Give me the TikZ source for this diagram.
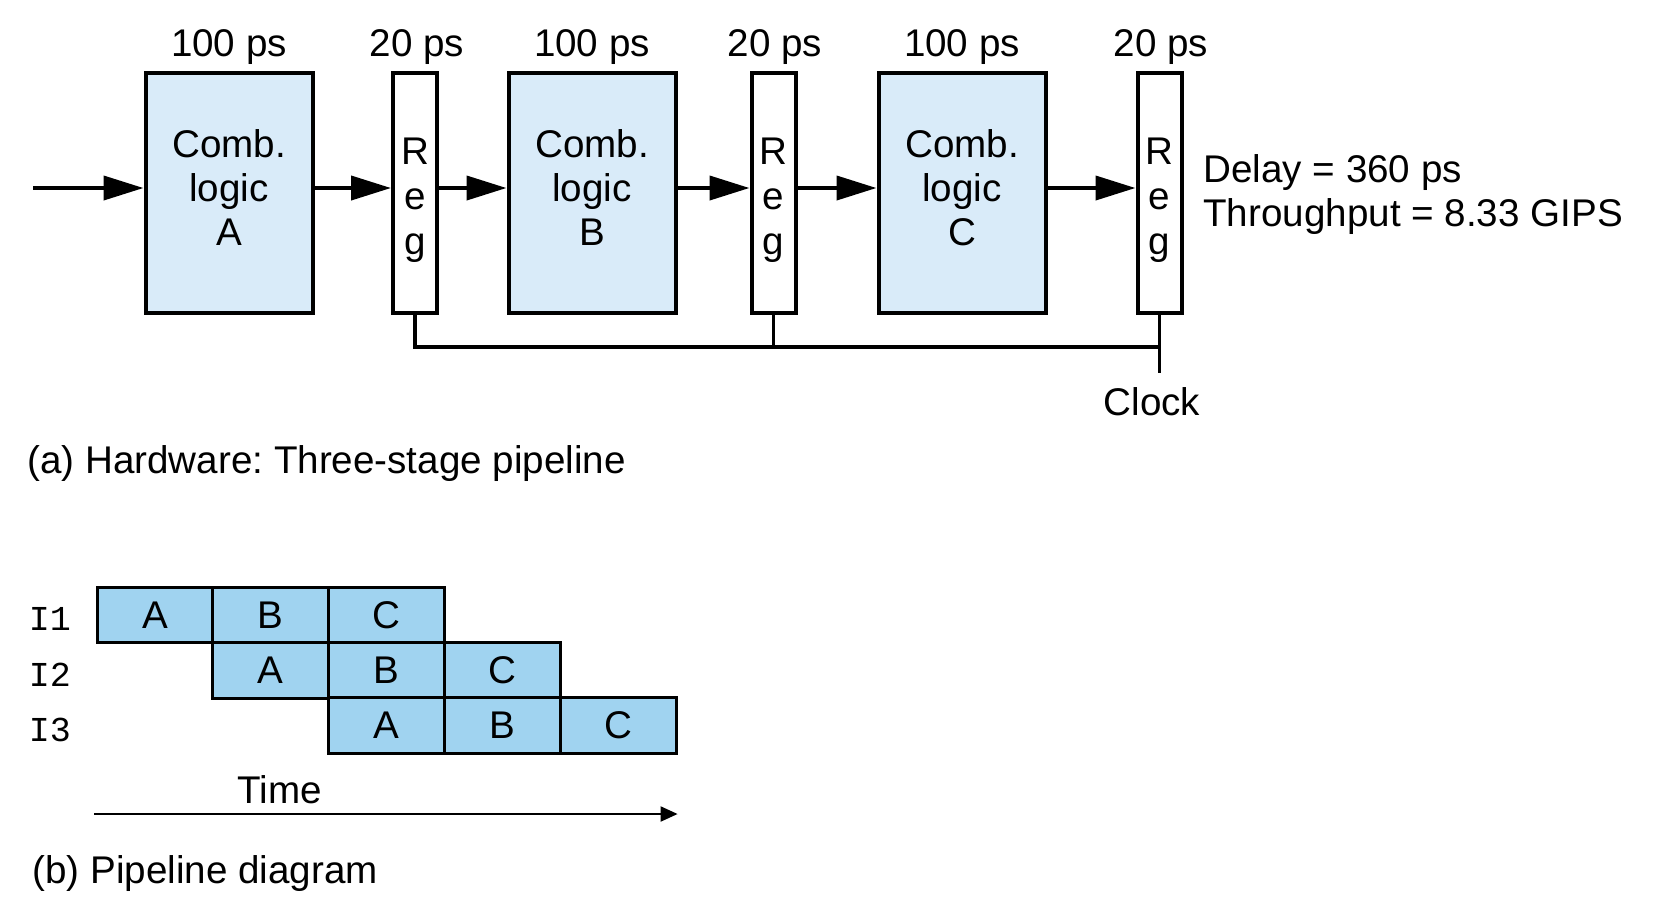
\documentclass[tikz,border=0pt]{standalone}
\usepackage{fontspec}
\setmainfont{Liberation Sans}
\setmonofont{Liberation Mono}
\usetikzlibrary{arrows.meta}
\definecolor{logicfill}{HTML}{D9EBF9}
\definecolor{cellfill}{HTML}{A0D3F0}
\frenchspacing

\begin{document}
\begin{tikzpicture}[x=0.5pt,y=-0.5pt,
  every node/.style={font=\fontsize{19.3}{22}\selectfont},
  logic/.style={draw,line width=2pt,fill=logicfill,minimum width=83.5pt,
    minimum height=120pt,align=center,inner sep=0pt},
  reg/.style={draw,line width=2pt,fill=white,minimum width=22pt,
    minimum height=120pt,align=center,inner sep=0pt,
    font=\fontsize{19.3}{22.5}\selectfont},
  wire/.style={line width=2pt,-{Triangle[length=20pt,width=12pt]}},
  clk/.style={line width=1.6pt},
  cell/.style={draw,line width=1.5pt,fill=cellfill,minimum width=57.9pt,
    minimum height=27.7pt,inner sep=0pt},
  caption/.style={anchor=west,inner sep=0pt}]
  \useasboundingbox (0,0) rectangle (1662,918);
  % (a) hardware
  \node[logic] (A) at (229,193) {};
  \node[reg]   (R1) at (415,193) {};
  \node[logic] (B) at (592,193) {};
  \node[reg]   (R2) at (773.5,193) {};
  \node[logic] (C) at (962,193) {};
  \node[reg]   (R3) at (1159.5,193) {};
  \foreach \n/\lab in {A/A,B/B,C/C}
    \node[align=center,inner sep=0pt] (l\n) at ([yshift=2.5pt]\n.center) {Comb.\\logic\\\lab};
  \foreach \n in {R1,R2,R3}
    \node[align=center,inner sep=0pt,font=\fontsize{19.3}{22.5}\selectfont]
      (l\n) at ([yshift=-3.5pt]\n.center) {R\\e\\g};
  \node (tA) at (229,47) {100 ps};
  \node (t1) at (417,47) {20 ps};
  \node (tB) at (592,47) {100 ps};
  \node (t2) at (775,47) {20 ps};
  \node (tC) at (962,47) {100 ps};
  \node (t3) at (1161,47) {20 ps};
  \coordinate (in) at (33,188);
  \draw[wire] (in) -- (in -| A.west);
  \draw[wire] (A.east |- in) -- (R1.west |- in);
  \draw[wire] (R1.east |- in) -- (B.west |- in);
  \draw[wire] (B.east |- in) -- (R2.west |- in);
  \draw[wire] (R2.east |- in) -- (C.west |- in);
  \draw[wire] (C.east |- in) -- (R3.west |- in);
  \node[caption,align=left] (perf) at (1203,195)
    {Delay = 360 ps\\Throughput = 8.33 GIPS};
  \coordinate (bus) at (0,347);
  \coordinate (clkend) at (1159.5,373);
  \draw[clk] (R1.south) -- (R1.south |- bus) -- (R3.south |- bus);
  \draw[clk] (R2.south) -- (R2.south |- bus);
  \draw[clk] (R3.south) -- (clkend);
  \node (clock) at (1152,402) {Clock};
  \node[caption] (capa) at (27,464) {(a) Hardware: Three-stage pipeline};
  % (b) pipeline diagram
  \foreach \r/\name in {0/I1,1/I2,2/I3}{
    \node[font=\fontsize{17.5}{20}\selectfont\ttfamily] (i\r) at (50,{619+55.3*\r}) {\name};
    \foreach \s/\lab in {0/A,1/B,2/C}
      \node[cell] (c\r\s) at ({155+115.8*(\r+\s)},{615+55.3*\r}) {\lab};
  }
  \node (time) at (280,790) {Time};
  \coordinate (t0) at (94,814);
  \draw[line width=1pt,-{Triangle[length=8.5pt,width=7.5pt]}] (t0) -- (t0 -| c22.east);
  \node[caption] (capb) at (32,874) {(b) Pipeline diagram};
\end{tikzpicture}
\end{document}
